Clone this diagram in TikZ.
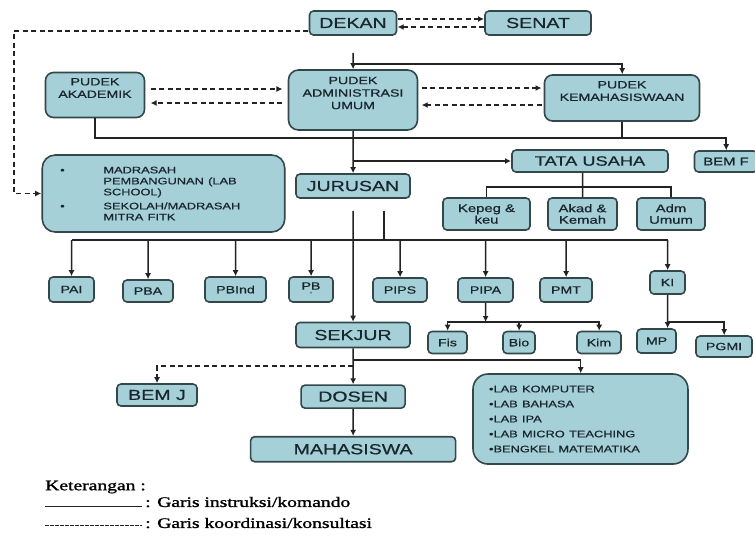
\documentclass[tikz,border=0pt]{standalone}
\usepackage{fontspec}
\setmainfont{Liberation Serif}
\setsansfont{Liberation Sans}
\newfontfamily\boxfont{Liberation Sans}[FakeBold=0.6]
\newfontfamily\legfont{Liberation Serif}[FakeBold=1.2]
\usepackage{tikz}
\usetikzlibrary{arrows.meta,positioning}
\definecolor{boxfill}{RGB}{166,208,216}
\definecolor{boxline}{RGB}{52,72,76}
\definecolor{wire}{RGB}{35,35,35}
\definecolor{ink}{RGB}{25,38,45}
\tikzset{
  unit/.style={draw=boxline, fill=boxfill, line width=1.6pt, rounded corners=4pt, text=ink, transform shape, inner sep=1pt, align=center, font=\boxfont\fontsize{10.5}{12}\selectfont}, % small boxes
  big/.style={unit, font=\boxfont\fontsize{14.5}{16}\selectfont}, % main offices
  pudek/.style={unit, rounded corners=8pt, text depth=14pt, font=\boxfont\fontsize{10.5}{12.5}\selectfont},
  listbox/.style={unit, align=left, rounded corners=13pt},
  boxsize/.style 2 args={minimum width=#1pt/1.35, minimum height=#2pt},
  cmd/.style={draw=wire, line width=1.5pt, -{Latex[length=6pt,width=6pt]}}, % instruction line
  plain/.style={draw=wire, line width=1.5pt},
  koord/.style={draw=wire, line width=1.4pt, dash pattern=on 5pt off 3.5pt, -{Latex[length=6pt,width=6pt]}}, % coordination line
  legend/.style={transform shape, inner sep=0pt, anchor=west, font=\legfont\fontsize{14.5}{16}\selectfont}
}

\begin{document}
\begin{tikzpicture}[x=0.7407pt, y=-1pt, xscale=1.35]
    \path[use as bounding box, fill=white] (0,0) rectangle (755,539);

    % Top
    \node[big, boxsize={87}{24}] (dekan) at (353,23) {DEKAN};
    \node[big, boxsize={106}{24}] (senat) at (538,23) {SENAT};

    % Pudek
    \node[pudek, boxsize={99}{45}] (pakad) at (95,95) {PUDEK\\AKADEMIK};
    \node[pudek, boxsize={129}{60}, rounded corners=10pt] (padm) at (353,100) {PUDEK\\ADMINISTRASI\\UMUM};
    \node[pudek, boxsize={155}{46}] (pkem) at (622,98) {PUDEK\\KEMAHASISWAAN};

    % Middle
    \node[listbox, font=\boxfont\fontsize{9.5}{11}\selectfont, text width=153pt, inner xsep=13.3pt, minimum height=77pt] (madrasah) at (163.5,193.5)
      {\makebox[32pt][l]{\textbullet}MADRASAH\\\hspace*{32pt}PEMBANGUNAN (LAB\\\hspace*{32pt}SCHOOL)\\[3pt]\makebox[32pt][l]{\textbullet}SEKOLAH/MADRASAH\\\hspace*{32pt}MITRA FITK};
    \node[big, boxsize={114}{24}] (jur) at (353,186) {JURUSAN};
    \node[big, boxsize={156}{22}, font=\boxfont\fontsize{13.5}{15}\selectfont] (tu) at (590,161) {TATA USAHA};
    \node[unit, boxsize={63}{21}, font=\boxfont\fontsize{11}{12}\selectfont] (bemf) at (726,161.5) {BEM F};
    \node[unit, boxsize={87}{32}, font=\boxfont\fontsize{11}{11.5}\selectfont] (kepeg) at (486.5,214) {Kepeg \&\\keu};
    \node[unit, boxsize={69}{32}, font=\boxfont\fontsize{11}{11.5}\selectfont] (akad) at (582.5,214) {Akad \&\\Kemah};
    \node[unit, boxsize={68}{32}, font=\boxfont\fontsize{11}{11.5}\selectfont] (admu) at (671,214) {Adm\\Umum};

    % Prodi
    \node[unit, boxsize={45}{25}] (pai) at (71.5,289.5) {PAI};
    \node[unit, boxsize={50}{22}] (pba) at (148,291) {PBA};
    \node[unit, boxsize={61}{25}] (pbind) at (235.5,289.5) {PBInd};
    \node[unit, boxsize={44}{25}] (pb) at (311,289.5) {PB\\[-5pt]{\fontsize{7}{7}\selectfont '}};
    \node[unit, boxsize={54}{24}] (pips) at (400,290) {PIPS};
    \node[unit, boxsize={55}{24}] (pipa) at (485.5,290) {PIPA};
    \node[unit, boxsize={52}{24}] (pmt) at (566,290) {PMT};
    \node[unit, boxsize={35}{23}] (ki) at (667.5,282.5) {KI};

    \node[big, boxsize={114}{25}] (sekjur) at (353,335) {SEKJUR};
    \node[unit, boxsize={39}{22}] (fis) at (447.5,342.5) {Fis};
    \node[unit, boxsize={32}{22}] (bio) at (519,342.5) {Bio};
    \node[unit, boxsize={44}{22}] (kim) at (599,342.5) {Kim};
    \node[unit, boxsize={39}{24}] (mp) at (656.5,341) {MP};
    \node[unit, boxsize={56}{21}] (pgmi) at (724,346.5) {PGMI};

    % Bottom
    \node[big, boxsize={80}{22}] (bemj) at (157,395) {BEM J};
    \node[big, boxsize={104}{23}, below=36pt of sekjur] (dosen) {DOSEN};
    \node[big, boxsize={205}{25}, below=27pt of dosen] (mhs) {MAHASISWA};
    \node[listbox, font=\boxfont\fontsize{9.5}{15}\selectfont, text width=135.5pt, inner xsep=11.85pt, minimum height=90pt, rounded corners=15pt] (lab) at (580.5,419)
      {\textbullet LAB KOMPUTER\\\textbullet LAB BAHASA\\\textbullet LAB IPA\\\textbullet LAB MICRO TEACHING\\\textbullet BENGKEL MATEMATIKA};

    % Rows of the connectors
    \coordinate (dl) at (14,31);
    \coordinate (r1) at (0,64);
    \coordinate (r2) at (0,138);
    \coordinate (r3) at (0,187);
    \coordinate (r4) at (0,240);
    \coordinate (r5) at (0,322);
    \coordinate (r6) at (0,360);
    \coordinate (r7) at (0,366);
    \coordinate (jb) at ([xshift=23pt, yshift=-12pt]jur.south);

    % Coordination
    \draw[koord] ([yshift=4pt]dekan.east) -- ([yshift=4pt]senat.west);
    \draw[koord] ([yshift=-4pt]senat.west) -- ([yshift=-4pt]dekan.east);
    \draw[koord] ([yshift=-8pt]dekan.west) -- (dl) |- (madrasah);
    \draw[koord, shorten <=5pt, shorten >=5pt] ([yshift=6pt]pakad.east) -- ([yshift=11pt]padm.west);
    \draw[koord, shorten <=5pt, shorten >=5pt] ([yshift=-3pt]padm.west) -- ([yshift=-8pt]pakad.east);
    \draw[koord, shorten <=3pt, shorten >=2pt] ([yshift=12pt]padm.east) -- ([yshift=10pt]pkem.west);
    \draw[koord, shorten <=2pt, shorten >=3pt] ([yshift=-7pt]pkem.west) -- ([yshift=-5pt]padm.east);
    \draw[koord] (sekjur.south |- r7) -| (bemj);

    % Instruction
    \draw[cmd, shorten <=17pt] (dekan) -- (padm);
    \draw[cmd] (r1 -| dekan.south) -| (pkem);
    \draw[cmd] (pakad.south) -- (pakad.south |- r2) -| (bemf);
    \draw[plain] (pkem.south) -- (pkem.south |- r2);
    \draw[cmd] (padm) -- (jur);
    \draw[cmd] (tu.west -| padm.south) -- (tu);
    \draw[plain] (akad.north |- tu.south) -- (akad);
    \draw[plain] (kepeg) |- (r3 -| akad) -| (admu);

    \draw[cmd, shorten <=12pt] (jur) -- (sekjur);
    \draw[plain] (jb) -- (jb |- r4);
    \draw[plain] (r4 -| pai) -- (r4 -| ki);
    \foreach \n in {pai,pba,pbind,pb,pips,pipa,pmt,ki}
      \draw[cmd] (r4 -| \n) -- (\n);

    \draw[cmd] (pipa) -- (pipa |- r5);
    \foreach \n in {fis,bio,kim}
      \draw[cmd] (pipa |- r5) -| (\n);
    \draw[cmd] (ki) -- (ki |- mp.north);
    \draw[cmd] (ki |- r5) -| (pgmi);

    \draw[cmd] (sekjur) -- (dosen);
    \draw[cmd] (sekjur.south |- r6) -| (lab);
    \draw[cmd] (dosen) -- (dosen |- mhs.north);

    % Legend
    \node[legend] (ket) at (45,487) {Keterangan :};
    \node[legend] (leg1) at (145,502) {: Garis instruksi/komando};
    \node[legend] (leg2) at (145,523) {: Garis koordinasi/konsultasi};
    \coordinate (s1) at (45,506);
    \coordinate (s2) at (45,525);
    \draw[draw=wire, line width=1pt, shorten >=3pt] (s1) -- (s1 -| leg1.west);
    \draw[draw=wire, line width=0.9pt, dash pattern=on 3.5pt off 1.5pt, shorten >=3pt] (s2) -- (s2 -| leg2.west);
\end{tikzpicture}
\end{document}
